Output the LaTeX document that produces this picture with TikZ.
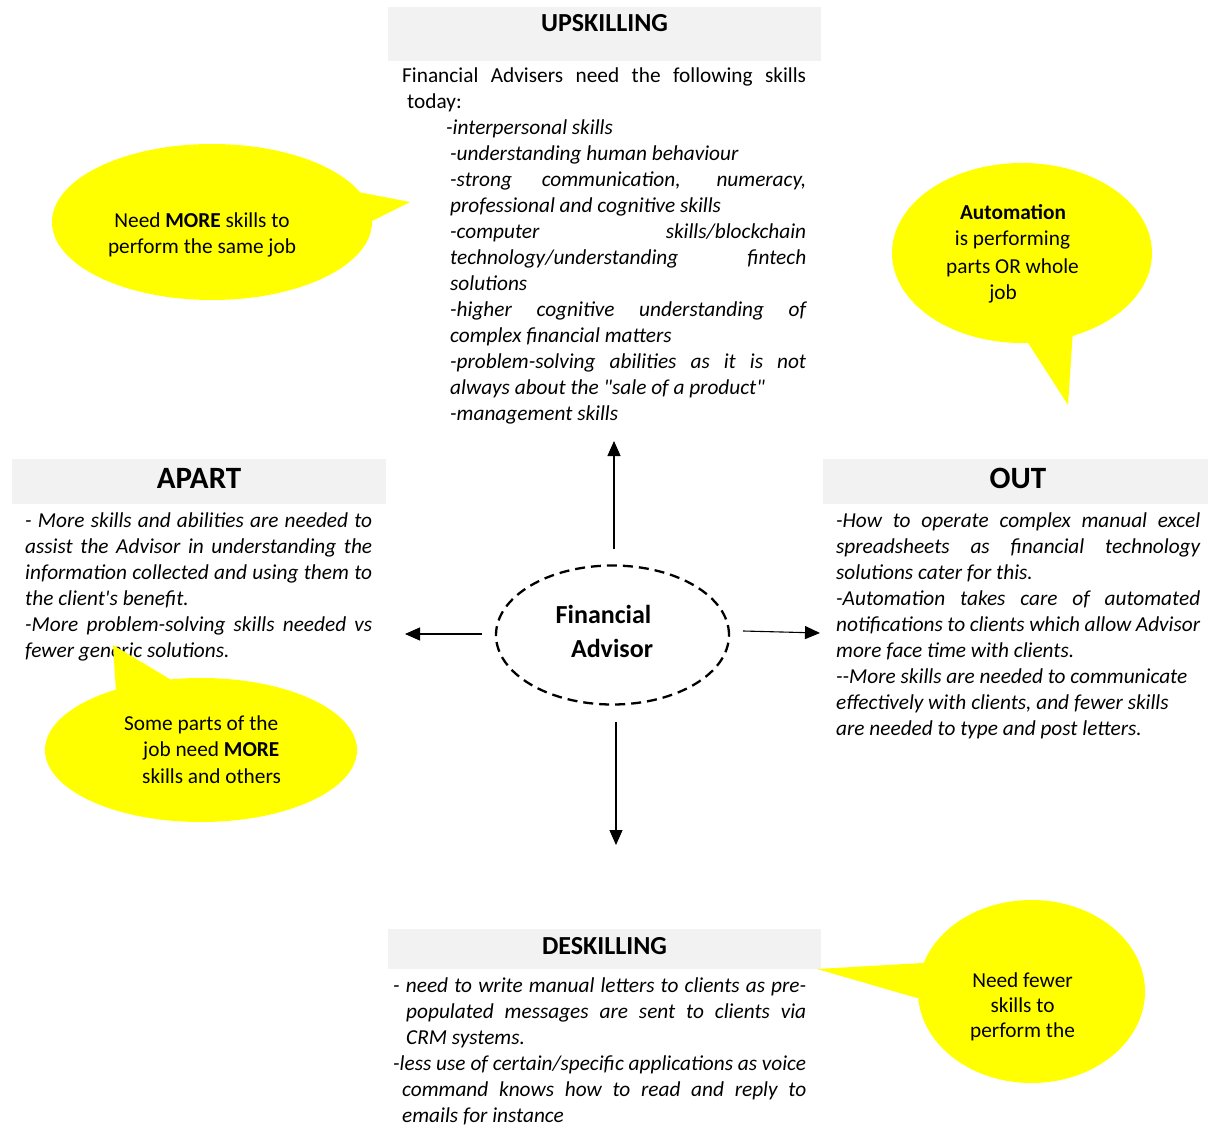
\documentclass[tikz,border=0pt]{standalone}
\usepackage{fontspec}
\setmainfont{Carlito}[Ligatures=TeXOff]
\usetikzlibrary{shapes.geometric,arrows.meta}
\definecolor{boxgray}{HTML}{F2F2F2}
\definecolor{bubbleyellow}{HTML}{FFFF00}
% a justified line: full width, or indented by #1
\newcommand{\jl}[1]{\makebox[\linewidth][s]{#1}}
\newcommand{\jli}[2]{\hspace*{#1}\makebox[\dimexpr\linewidth-#1\relax][s]{#2}}
\tikzset{
  headbox/.style={fill=boxgray, draw=none, inner sep=0pt},
  heading/.style={font=\bfseries\fontsize{26}{30}\selectfont, inner sep=0pt, anchor=base},
  bigheading/.style={font=\bfseries\fontsize{31}{36}\selectfont, inner sep=0pt, anchor=base},
  body/.style={anchor=base west, inner sep=0pt, font=\fontsize{21.3}{26}\selectfont},
  btext/.style={inner sep=0pt, font=\fontsize{21.3}{26}\selectfont},
  arr/.style={-{Triangle[length=15pt,width=13pt]}, line width=1.1pt},
  callout/.style={fill=bubbleyellow, draw=none},
  centre/.style={ellipse, draw, dash pattern=on 10pt off 6pt, line width=2.3pt,
                 minimum width=233pt, minimum height=139pt, inner sep=0pt}
}
\begin{document}
\begin{tikzpicture}[x=1pt, y=-1pt]
\useasboundingbox (0,0) rectangle (1208,1126);

% ---------- heading boxes ----------
\node[headbox, minimum width=433pt, minimum height=54pt] (upbox) at (604.5,34) {};
\node[heading] (uptitle) at (604.5,32) {UPSKILLING};

\node[headbox, minimum width=374pt, minimum height=45pt] (apbox) at (199,481.5) {};
\node[bigheading] (aptitle) at (199,488) {APART};

\node[headbox, minimum width=385pt, minimum height=45pt] (outbox) at (1015.5,481.5) {};
\node[bigheading] (outtitle) at (1018,488) {OUT};

\node[headbox, minimum width=433pt, minimum height=40pt] (debox) at (604.5,949) {};
\node[heading] (detitle) at (604.5,954) {DESKILLING};

% ---------- text blocks ----------
\node[body] (uptext) at (402,83) {\parbox[t]{404pt}{%
\jl{Financial Advisers need the following skills}\\
\hspace*{5pt}today:\\
\itshape
\hspace*{44pt}-interpersonal skills\\
\hspace*{48pt}-understanding human behaviour\\
\jli{48pt}{-strong communication, numeracy,}\\
\hspace*{48pt}professional and cognitive skills\\
\jli{48pt}{-computer skills/blockchain}\\
\jli{48pt}{technology/understanding fintech}\\
\hspace*{48pt}solutions\\
\jli{48pt}{-higher cognitive understanding of}\\
\hspace*{48pt}complex financial matters\\
\jli{48pt}{-problem-solving abilities as it is not}\\
\hspace*{48pt}always about the "sale of a product"\\
\hspace*{48pt}-management skills}};

\node[body] (aptext) at (25,527) {\parbox[t]{347pt}{\itshape
\jl{- More skills and abilities are needed to}\\
\jl{assist the Advisor in understanding the}\\
\jl{information collected and using them to}\\
the client's benefit.\\
\jl{-More problem-solving skills needed vs}\\
fewer generic solutions.}};

\node[body] (outtext) at (836,527) {\parbox[t]{364pt}{\itshape
\jl{-How to operate complex manual excel}\\
\jl{spreadsheets as financial technology}\\
solutions cater for this.\\
\jl{-Automation takes care of automated}\\
\jl{notifications to clients which allow Advisor}\\
more face time with clients.\\
--More skills are needed to communicate\\
effectively with clients, and fewer skills\\
are needed to type and post letters.}};

\node[body] (detext) at (393,992) {\parbox[t]{413pt}{\itshape
\jl{- need to write manual letters to clients as pre-}\\
\jli{13pt}{populated messages are sent to clients via}\\
\hspace*{13pt}CRM systems.\\
\jl{-less use of certain/specific applications as voice}\\
\jli{9pt}{command knows how to read and reply to}\\
\hspace*{9pt}emails for instance}};

% ---------- centre ----------
\node[centre] (fa) at (612.5,635) {};
\node[inner sep=0pt, anchor=base, font=\bfseries\fontsize{26}{30}\selectfont] (fa1) at (603.5,623) {Financial};
\node[inner sep=0pt, anchor=base, font=\bfseries\fontsize{26}{30}\selectfont] (fa2) at (612,657) {Advisor};

\coordinate (upend) at (614,441);
\coordinate (leftend) at (405,634);
\coordinate (rightend) at (820,633);
\coordinate (downend) at (616,845);
\coordinate (upstart) at (614,549);
\coordinate (leftstart) at (482,634);
\coordinate (rightstart) at (743,631);
\coordinate (downstart) at (616,722);
\draw[arr] (upstart) -- (upend);
\draw[arr] (leftstart) -- (leftend);
\draw[arr] (rightstart) -- (rightend);
\draw[arr] (downstart) -- (downend);

% ---------- callouts ----------
% more skills, same job
\fill[callout] (212,222) ellipse [x radius=160pt, y radius=78pt];
\fill[callout] (358,192) -- (410,202) -- (370,222) -- (330,215) -- cycle;
\node[btext, anchor=base] (c1a) at (202,228) {Need \textbf{MORE} skills to};
\node[btext, anchor=base] (c1b) at (202,254) {perform the same job};

% automation
\fill[callout] (1022,253) ellipse [x radius=130pt, y radius=90pt];
\fill[callout] (1023,335) -- (1068,405) -- (1073,330) -- (1045,300) -- cycle;
\node[btext, anchor=base] (c2a) at (1013,220) {\textbf{Automation}};
\node[btext, anchor=base] (c2b) at (1012.5,246) {is performing};
\node[btext, anchor=base] (c2c) at (1012.5,273) {parts OR whole};
\node[btext, anchor=base] (c2d) at (1003,299) {job};

% some parts more, others fewer
\fill[callout] (201,750) ellipse [x radius=156pt, y radius=72pt];
\fill[callout] (116,692) -- (113,645) -- (173,681) -- (160,720) -- cycle;
\node[btext, anchor=base west] (c3a) at (124,730) {Some parts of the};
\node[btext, anchor=base west] (c3b) at (143,756) {job need \textbf{MORE}};
\node[btext, anchor=base west] (c3c) at (142,783) {skills and others};

% fewer skills
\fill[callout] (1031.5,991.5) ellipse [x radius=113.5pt, y radius=91.5pt];
\fill[callout] (923,963) -- (817,969) -- (917,998) -- (960,985) -- cycle;
\node[btext, anchor=base] (c4a) at (1022.5,987) {Need fewer};
\node[btext, anchor=base] (c4b) at (1022.5,1012) {skills to};
\node[btext, anchor=base] (c4c) at (1022.5,1037) {perform the};
\end{tikzpicture}
\end{document}
